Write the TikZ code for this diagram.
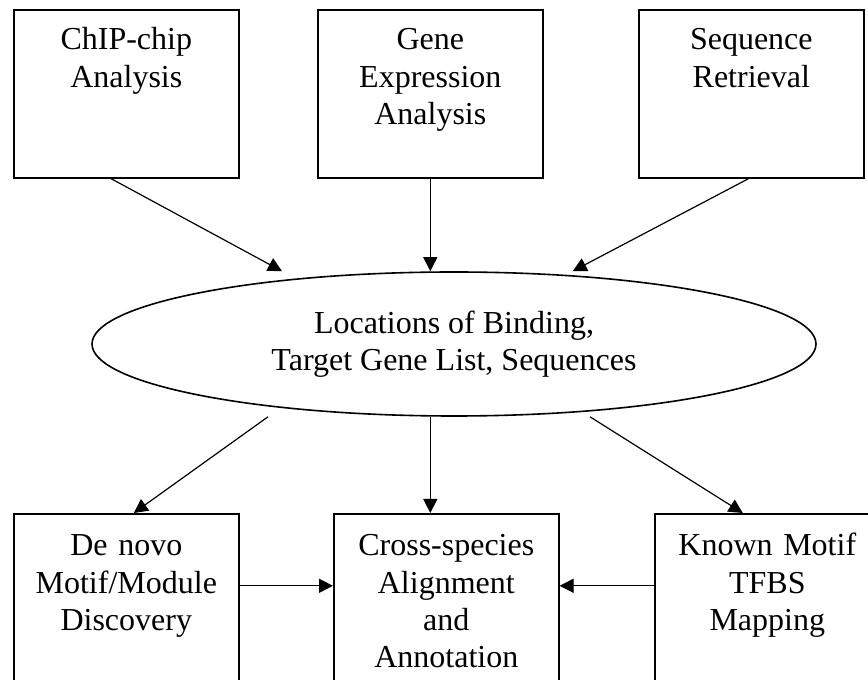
\documentclass[tikz,border=0pt]{standalone}
\usepackage{fontspec}
\setmainfont{Liberation Serif}
\usetikzlibrary{shapes.geometric,arrows.meta}

\begin{document}
\begin{tikzpicture}[x=0.75pt,y=-0.75pt,
    font=\fontsize{24}{28}\selectfont,
    box/.style={draw,line width=1.2pt,anchor=north west,inner sep=0pt,
      text width=168.75pt,align=center,text height=30pt,text depth=96pt},
    lowbox/.style={box,text height=31.5pt,text depth=103.5pt},
    arr/.style={-{Triangle[length=10.5pt,width=10.5pt]},line width=0.9pt}]
   \useasboundingbox (0,0) rectangle (868,680);
   \node[box] (chip) at (13,9) {ChIP-chip\\Analysis};
   \node[box] (gene) at (317,9) {Gene\\Expression\\Analysis};
   \node[box] (seq) at (638,9) {Sequence\\Retrieval};
   \node[ellipse,draw,line width=1.2pt,inner sep=0pt,minimum width=543pt,
     minimum height=108pt,align=center] (loc) at (454,344)
     {Locations of Binding,\\Target Gene List, Sequences};
   \node[lowbox] (denovo) at (13,513) {De novo\\Motif/Module\\Discovery};
   \node[lowbox] (cross) at (333,513) {Cross-species\\Alignment\\and\\Annotation};
   \node[lowbox] (known) at (654,513) {Known Motif\\TFBS\\Mapping};
    \draw[arr] ([xshift=-11.5pt]chip.south) -- ([xshift=-129pt]loc.north);
    \draw[arr] (gene.south) -- (gene.south |- loc.north);
    \draw[arr] ([xshift=-2pt]seq.south) -- ([xshift=89pt]loc.north);
    \draw[arr] ([xshift=-139.5pt]loc.south) -- ([xshift=5.6pt]denovo.north);
    \draw[arr] (gene.south |- loc.south) -- (gene.south |- cross.north);
    \draw[arr] ([xshift=102pt]loc.south) -- ([xshift=-18.4pt]known.north);
    \draw[arr] ([yshift=13.5pt]denovo.east) -- ([yshift=13.5pt]cross.west);
    \draw[arr] ([yshift=13.5pt]known.west) -- ([yshift=13.5pt]cross.east);
\end{tikzpicture}
\end{document}
